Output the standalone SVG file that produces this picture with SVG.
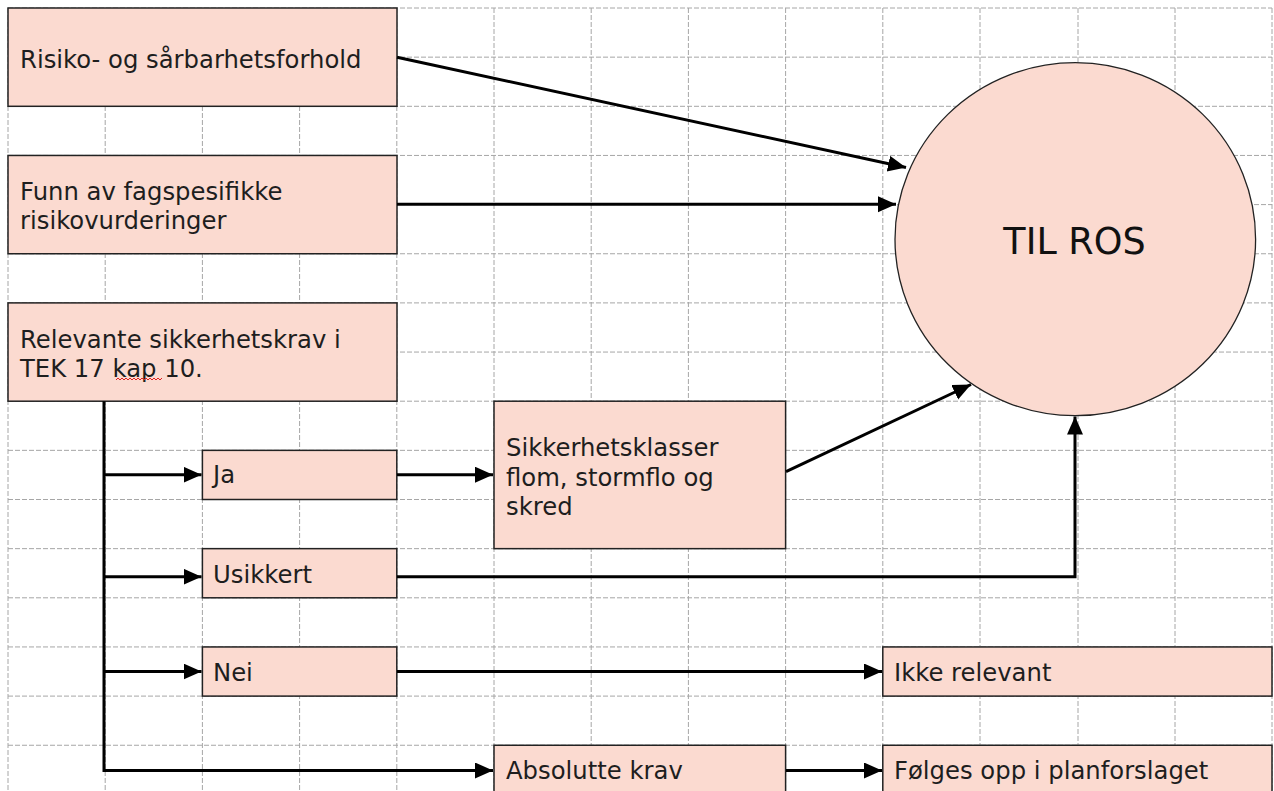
<svg xmlns="http://www.w3.org/2000/svg" width="1274" height="791" viewBox="0 0 1274 791">
  <style>
    .grid line { stroke: #a6a6a6; stroke-width: 1; stroke-dasharray: 5 2; }
    .box { fill: #fbdad0; stroke: #222; stroke-width: 1.5; }
    .lbl { font-family: "DejaVu Sans", Verdana, sans-serif; font-size: 24.3px; fill: #1e1e1e; }
    .big { font-family: "DejaVu Sans", Verdana, sans-serif; font-size: 36.5px; fill: #111; }
    .conn { stroke: #000; stroke-width: 3; fill: none; }
  </style>
  <defs>
    <marker id="ah" markerUnits="userSpaceOnUse" markerWidth="20" markerHeight="18" refX="18" refY="8" orient="auto">
      <path d="M0,0 L18,8 L0,16 z" fill="#000"/>
    </marker>
  </defs>
  <rect x="0" y="0" width="1274" height="791" fill="#fff"/>
  <g class="grid" id="grid">
    <line x1="8" y1="8" x2="8" y2="791"/>
    <line x1="105.2" y1="8" x2="105.2" y2="791"/>
    <line x1="202.4" y1="8" x2="202.4" y2="791"/>
    <line x1="299.6" y1="8" x2="299.6" y2="791"/>
    <line x1="396.8" y1="8" x2="396.8" y2="791"/>
    <line x1="494" y1="8" x2="494" y2="791"/>
    <line x1="591.2" y1="8" x2="591.2" y2="791"/>
    <line x1="688.4" y1="8" x2="688.4" y2="791"/>
    <line x1="785.6" y1="8" x2="785.6" y2="791"/>
    <line x1="882.8" y1="8" x2="882.8" y2="791"/>
    <line x1="980" y1="8" x2="980" y2="791"/>
    <line x1="1078" y1="8" x2="1078" y2="791"/>
    <line x1="1175" y1="8" x2="1175" y2="791"/>
    <line x1="1272" y1="8" x2="1272" y2="791"/>
    <line x1="8" y1="8" x2="1272" y2="8"/>
    <line x1="8" y1="57.15" x2="1272" y2="57.15"/>
    <line x1="8" y1="106.3" x2="1272" y2="106.3"/>
    <line x1="8" y1="155.45" x2="1272" y2="155.45"/>
    <line x1="8" y1="204.6" x2="1272" y2="204.6"/>
    <line x1="8" y1="253.75" x2="1272" y2="253.75"/>
    <line x1="8" y1="302.9" x2="1272" y2="302.9"/>
    <line x1="8" y1="352.05" x2="1272" y2="352.05"/>
    <line x1="8" y1="401.2" x2="1272" y2="401.2"/>
    <line x1="8" y1="450.35" x2="1272" y2="450.35"/>
    <line x1="8" y1="499.5" x2="1272" y2="499.5"/>
    <line x1="8" y1="548.65" x2="1272" y2="548.65"/>
    <line x1="8" y1="597.8" x2="1272" y2="597.8"/>
    <line x1="8" y1="646.95" x2="1272" y2="646.95"/>
    <line x1="8" y1="696.1" x2="1272" y2="696.1"/>
    <line x1="8" y1="745.25" x2="1272" y2="745.25"/>
  </g>

  <g id="node-risiko">
    <rect class="box" x="8" y="8" width="389" height="98.3"/>
    <text class="lbl" x="20" y="67.5">Risiko- og sårbarhetsforhold</text>
  </g>
  <g id="node-funn">
    <rect class="box" x="8" y="155.45" width="389" height="98.3"/>
    <text class="lbl" x="20" y="200">Funn av fagspesifikke</text>
    <text class="lbl" x="20" y="228.5">risikovurderinger</text>
  </g>
  <g id="node-relevante">
    <rect class="box" x="8" y="302.9" width="389" height="98.3"/>
    <text class="lbl" x="20" y="348">Relevante sikkerhetskrav i</text>
    <text class="lbl" x="20" y="377">TEK 17 kap 10.</text>
    <polyline points="116,380 118,378 120,380 122,378 124,380 126,378 128,380 130,378 132,380 134,378 136,380 138,378 140,380 142,378 144,380 146,378 148,380 150,378 152,380 154,378 156,380 158,378 160,380 162,378" fill="none" stroke="#e0201e" stroke-width="1"/>
  </g>
  <g id="node-ja">
    <rect class="box" x="202.4" y="450.35" width="194.4" height="49.15"/>
    <text class="lbl" x="213" y="483">Ja</text>
  </g>
  <g id="node-sikkerhetsklasser">
    <rect class="box" x="494" y="401.2" width="291.6" height="147.45"/>
    <text class="lbl" x="506" y="456">Sikkerhetsklasser</text>
    <text class="lbl" x="506" y="485.5">flom, stormflo og</text>
    <text class="lbl" x="506" y="515">skred</text>
  </g>
  <g id="node-usikkert">
    <rect class="box" x="202.4" y="548.65" width="194.4" height="49.15"/>
    <text class="lbl" x="213" y="583">Usikkert</text>
  </g>
  <g id="node-nei">
    <rect class="box" x="202.4" y="646.95" width="194.4" height="49.15"/>
    <text class="lbl" x="213" y="681">Nei</text>
  </g>
  <g id="node-ikke-relevant">
    <rect class="box" x="882.8" y="646.95" width="389.2" height="49.15"/>
    <text class="lbl" x="894" y="681">Ikke relevant</text>
  </g>
  <g id="node-absolutte">
    <rect class="box" x="494" y="745.25" width="291.6" height="49.15"/>
    <text class="lbl" x="506" y="779">Absolutte krav</text>
  </g>
  <g id="node-folges">
    <rect class="box" x="882.8" y="745.25" width="389.2" height="49.15"/>
    <text class="lbl" x="894" y="779">Følges opp i planforslaget</text>
  </g>
  <g id="node-til-ros">
    <ellipse cx="1075.3" cy="239.2" rx="180.3" ry="176.5" fill="#fbdad0" stroke="#222" stroke-width="1.3"/>
    <text class="big" x="1074.5" y="254" text-anchor="middle">TIL ROS</text>
  </g>

  <g id="connectors">
    <line class="conn" x1="397" y1="57.3" x2="906" y2="167.5" marker-end="url(#ah)"/>
    <line class="conn" x1="397" y1="204.3" x2="896" y2="204.3" marker-end="url(#ah)"/>
    <line class="conn" x1="786" y1="471.7" x2="971" y2="384.5" marker-end="url(#ah)"/>
    <polyline class="conn" points="397,576.7 1075,576.7 1075,416.5" marker-end="url(#ah)"/>
    <line class="conn" x1="397" y1="474.7" x2="493" y2="474.7" marker-end="url(#ah)"/>
    <line class="conn" x1="397" y1="671.5" x2="882" y2="671.5" marker-end="url(#ah)"/>
    <line class="conn" x1="786" y1="770.5" x2="882" y2="770.5" marker-end="url(#ah)"/>
    <polyline class="conn" points="104,401.2 104,770.5 493,770.5" marker-end="url(#ah)"/>
    <line class="conn" x1="104" y1="474.7" x2="201.5" y2="474.7" marker-end="url(#ah)"/>
    <line class="conn" x1="104" y1="576.7" x2="201.5" y2="576.7" marker-end="url(#ah)"/>
    <line class="conn" x1="104" y1="671.5" x2="201.5" y2="671.5" marker-end="url(#ah)"/>
  </g>
</svg>
